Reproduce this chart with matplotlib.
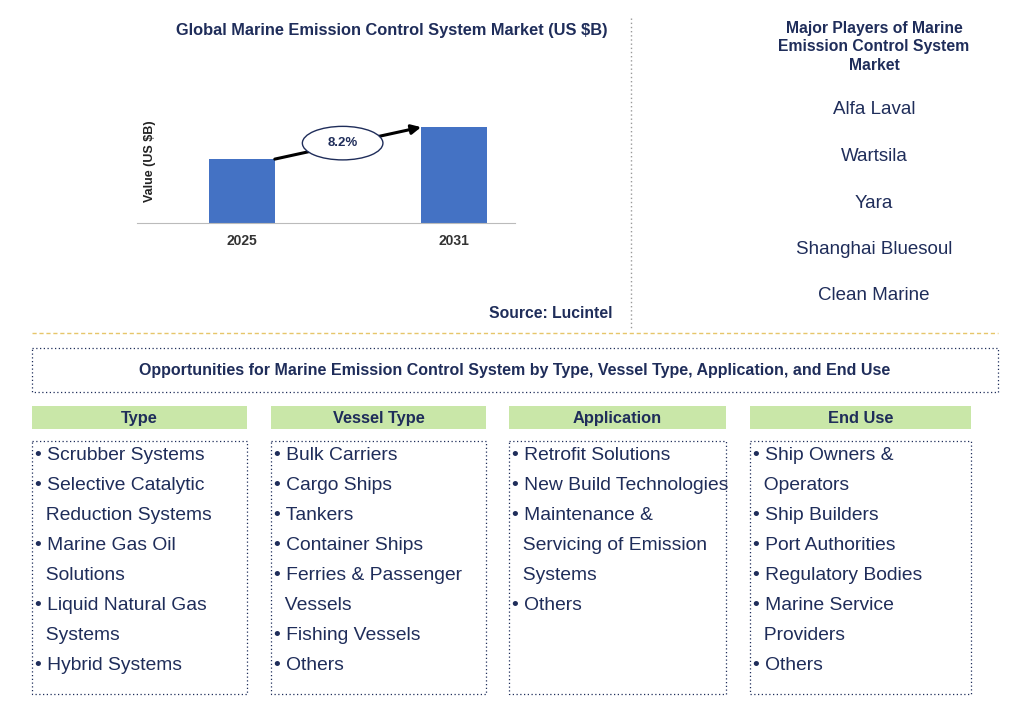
import matplotlib
matplotlib.use("Agg")
import matplotlib.pyplot as plt
from matplotlib.patches import Rectangle, Ellipse

years = ["2025", "2031"]
values = [2.0, 3.0]
cagr = "8.2%"
players = ["Alfa Laval", "Wartsila", "Yara", "Shanghai Bluesoul", "Clean Marine"]
headers = ["Type", "Vessel Type", "Application", "End Use"]
lists = [
    ["• Scrubber Systems", "• Selective Catalytic", "  Reduction Systems", "• Marine Gas Oil", "  Solutions",
     "• Liquid Natural Gas", "  Systems", "• Hybrid Systems"],
    ["• Bulk Carriers", "• Cargo Ships", "• Tankers", "• Container Ships", "• Ferries & Passenger",
     "  Vessels", "• Fishing Vessels", "• Others"],
    ["• Retrofit Solutions", "• New Build Technologies", "• Maintenance &", "  Servicing of Emission",
     "  Systems", "• Others"],
    ["• Ship Owners &", "  Operators", "• Ship Builders", "• Port Authorities", "• Regulatory Bodies",
     "• Marine Service", "  Providers", "• Others"],
]

W, H = 1019, 723
fig = plt.figure(figsize=(W/100, H/100), dpi=100)
plt.rcParams["font.family"] = "Liberation Sans"
bg = fig.add_axes([0, 0, 1, 1])
bg.set_xlim(0, W); bg.set_ylim(H, 0); bg.axis("off")
navy = "#1f2d5a"

# bar chart
ax = fig.add_axes([137/W, 1-223/H, 378/W, 123/H])
ax.bar([0, 1], values, width=0.311, color="#4472c4")
ax.set_xlim(-0.495, 1.288); ax.set_ylim(0, 3.85)
for s in ["top", "right", "left"]:
    ax.spines[s].set_visible(False)
ax.spines["bottom"].set_color("#bbbbbb")
ax.set_yticks([])
ax.set_xticks([0, 1]); ax.set_xticklabels(years, fontsize=10, fontweight="bold", color="#333333")
ax.tick_params(axis="x", length=0, pad=8)
ax.set_ylabel("Value (US $B)", fontsize=9, fontweight="bold", color="#222222", labelpad=-14)
ax.annotate("", xy=(1-0.155, values[1]), xytext=(0.155, values[0]),
            arrowprops=dict(arrowstyle="-|>", color="black", lw=2.2, mutation_scale=14,
                            shrinkA=0, shrinkB=0))
ax.add_patch(Ellipse((0.475, 2.5), 0.38, 1.05, facecolor="white", edgecolor=navy, lw=1, zorder=5))
ax.text(0.475, 2.5, cagr, ha="center", va="center", fontsize=9.5, fontweight="bold", color=navy, zorder=6)

bg.text(392, 30, "Global Marine Emission Control System Market (US $B)", ha="center", va="center",
        fontsize=11.8, fontweight="bold", color=navy)
bg.text(613, 313, "Source: Lucintel", ha="right", va="center", fontsize=11.3, fontweight="bold", color=navy)
bg.plot([631, 631], [18, 328], color="#999999", lw=1, ls=(0, (1, 2)))
bg.text(874, 47, "Major Players of Marine\nEmission Control System\nMarket", ha="center", va="center",
        fontsize=11.3, fontweight="bold", color=navy, linespacing=1.3)
for i, p in enumerate(players):
    bg.text(874, 110 + 46.5*i, p, ha="center", va="center", fontsize=13.5, color=navy)
bg.plot([32, 998], [333, 333], color="#e6c66a", lw=1, ls=(0, (3, 2)))
bg.add_patch(Rectangle((32, 348), 966, 44, fill=False, edgecolor=navy, lw=0.9, ls=(0, (1, 2))))
bg.text(515, 371, "Opportunities for Marine Emission Control System by Type, Vessel Type, Application, and End Use",
        ha="center", va="center", fontsize=11.5, fontweight="bold", color=navy)
cols = [(32, 247), (271, 486), (509, 726), (750, 971)]
for (x0, x1), h, items in zip(cols, headers, lists):
    bg.add_patch(Rectangle((x0, 406), x1-x0, 23, facecolor="#c9e7a8", edgecolor="none"))
    bg.text((x0+x1)/2, 418.5, h, ha="center", va="center", fontsize=11.8, fontweight="bold", color=navy)
    bg.add_patch(Rectangle((x0, 441), x1-x0, 253, fill=False, edgecolor=navy, lw=0.9, ls=(0, (1, 2))))
    for i, t in enumerate(items):
        bg.text(x0+3, 456 + 30*i, t, ha="left", va="center", fontsize=13.9, color=navy)

fig.savefig("out.png", dpi=100)
